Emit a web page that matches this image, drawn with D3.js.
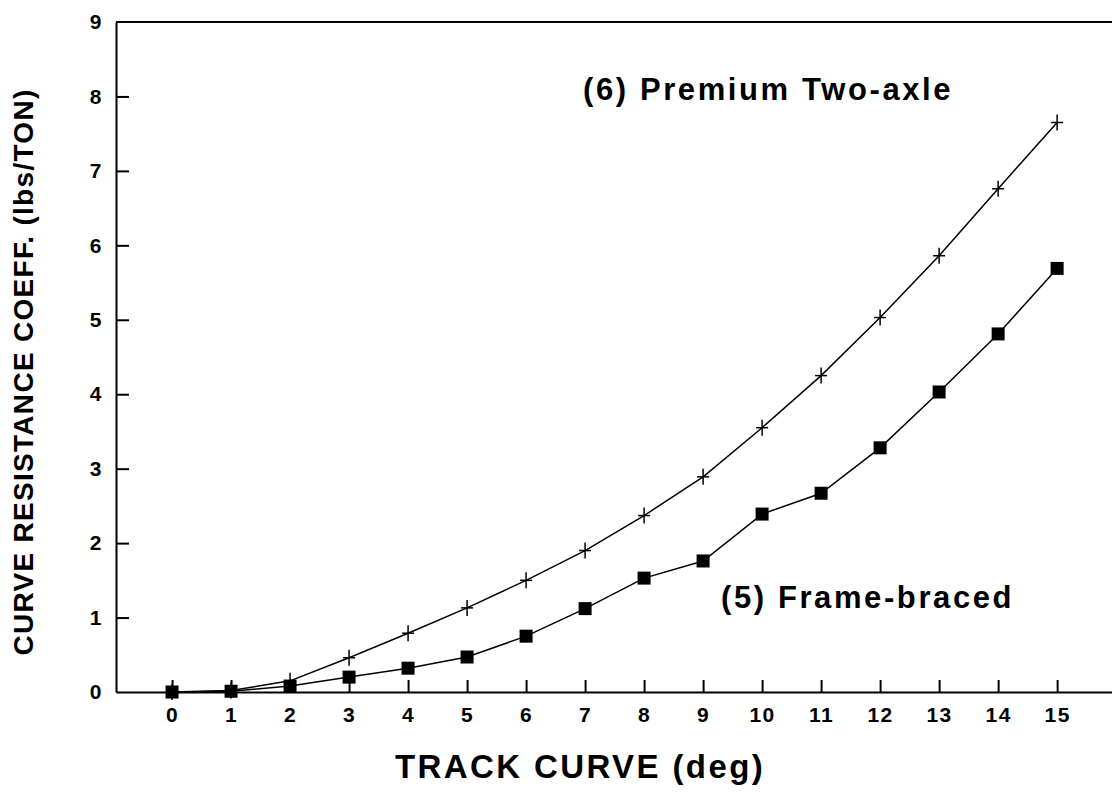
<!DOCTYPE html>
<html>
<head>
<meta charset="utf-8">
<style>
body { margin: 0; background: #fff; }
text { font-family: "Liberation Sans", Arial, sans-serif; fill: #000; }
.axis path, .axis line { stroke: #000; stroke-width: 2px; }
.axis text { font-size: 21px; font-weight: bold; letter-spacing: 1.5px; }
.series { fill: none; stroke: #000; stroke-width: 1.5px; }
.label { font-size: 31px; font-weight: bold; letter-spacing: 2.6px; }
</style>
<script src="https://d3js.org/d3.v7.min.js"></script>
</head>
<body>
<svg width="1112" height="795"></svg>
<script>

// track curve (deg)
var curve = [0, 1, 2, 3, 4, 5, 6, 7, 8, 9, 10, 11, 12, 13, 14, 15];
// (6) Premium Two-axle, lbs/TON
var premium = [0, 0.02, 0.15, 0.46, 0.79, 1.13, 1.5, 1.9, 2.37, 2.89, 3.55, 4.25, 5.03, 5.86, 6.76, 7.65];
// (5) Frame-braced, lbs/TON
var braced = [0, 0.01, 0.08, 0.2, 0.32, 0.47, 0.75, 1.12, 1.53, 1.76, 2.39, 2.67, 3.28, 4.03, 4.81, 5.69];
var yTicks = [0, 1, 2, 3, 4, 5, 6, 7, 8, 9];

var svg = d3.select("svg");

var x = d3.scaleLinear().domain([-0.95, 15.93]).range([116, 1112]);
var y = d3.scaleLinear().domain([0, 9]).range([692, 22]);

// top frame line
svg.append("line")
    .attr("x1", x(-0.95)).attr("x2", x(15.93))
    .attr("y1", y(9)).attr("y2", y(9))
    .attr("stroke", "#000").attr("stroke-width", 2);

svg.append("g")
    .attr("class", "axis")
    .attr("transform", "translate(0," + y(0) + ")")
    .call(d3.axisBottom(x).tickValues(curve).tickSize(-12).tickSizeOuter(0).tickPadding(15));

svg.append("g")
    .attr("class", "axis")
    .attr("transform", "translate(" + x(-0.95) + ",0)")
    .call(d3.axisLeft(y).tickValues(yTicks).tickSize(-13).tickSizeOuter(0).tickPadding(13))
    .call(function(g) { g.selectAll(".tick").filter(function(d) { return d === 0 || d === 9; }).select("line").remove(); });

var line = d3.line()
    .x(function(d, i) { return x(curve[i]); })
    .y(function(d) { return y(d); });

svg.append("path").datum(premium).attr("class", "series").attr("d", line);
svg.append("path").datum(braced).attr("class", "series").attr("d", line);

// plus markers
var plus = svg.selectAll(".plus")
    .data(premium)
    .enter().append("g")
    .attr("transform", function(d, i) { return "translate(" + x(curve[i]) + "," + y(d) + ")"; });
plus.append("line").attr("x1", -6).attr("x2", 6).attr("stroke", "#000").attr("stroke-width", 1.5);
plus.append("line").attr("y1", -8).attr("y2", 8).attr("stroke", "#000").attr("stroke-width", 1.5);

// square markers
svg.selectAll(".sq")
    .data(braced)
    .enter().append("rect")
    .attr("x", function(d, i) { return x(curve[i]) - 6.5; })
    .attr("y", function(d) { return y(d) - 6.5; })
    .attr("width", 13)
    .attr("height", 13)
    .attr("fill", "#000");

svg.append("text")
    .attr("class", "label")
    .attr("x", 583).attr("y", 100)
    .text("(6) Premium Two-axle");

svg.append("text")
    .attr("class", "label")
    .attr("x", 721).attr("y", 608)
    .text("(5) Frame-braced");

svg.append("text")
    .attr("x", 580).attr("y", 778)
    .attr("text-anchor", "middle")
    .style("font-size", "33px").style("font-weight", "bold").style("letter-spacing", "2.4px")
    .text("TRACK CURVE (deg)");

svg.append("text")
    .attr("transform", "translate(33,372) rotate(-90)")
    .attr("text-anchor", "middle")
    .style("font-size", "28px").style("font-weight", "bold").style("letter-spacing", "1.3px")
    .text("CURVE RESISTANCE COEFF. (lbs/TON)");

</script>
</body>
</html>
